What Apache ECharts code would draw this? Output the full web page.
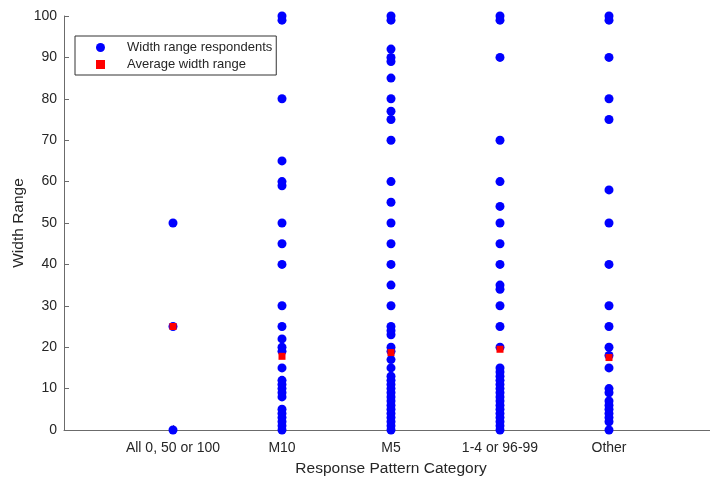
<!DOCTYPE html>
<html>
<head>
<meta charset="utf-8">
<script src="https://cdn.jsdelivr.net/npm/echarts@6/dist/echarts.min.js"></script>
<style>html,body{margin:0;padding:0;background:#fff;overflow:hidden;}#c{width:718px;height:478px;}</style>
</head>
<body>
<div id="c"></div>
<script>
const categories = ['All 0, 50 or 100', 'M10', 'M5', '1-4 or 96-99', 'Other'];
const cat1 = [50, 25, 0];
const cat2 = [100, 99, 80, 65, 60, 59, 50, 45, 40, 30, 25, 22, 20, 19, 15, 12, 11, 10, 9, 8, 5, 4, 3, 2, 1, 0];
const cat3 = [100, 99, 92, 90, 89, 85, 80, 77, 75, 70, 60, 55, 50, 45, 40, 35, 30, 25, 24, 23, 20, 19, 17, 15, 13, 12, 11, 10, 9, 8, 7, 6, 5, 4, 3, 2, 1, 0];
const cat4 = [100, 99, 90, 70, 60, 54, 50, 45, 40, 35, 34, 30, 25, 20, 15, 14, 13, 12, 11, 10, 9, 8, 7, 6, 5, 4, 3, 2, 1, 0];
const cat5 = [100, 99, 90, 80, 75, 58, 50, 40, 30, 25, 20, 18, 15, 10, 9, 7, 6, 5, 4, 3, 2, 0];
const averages = [25, 17.8, 18.7, 19.5, 17.5];
const yTicks = [0, 10, 20, 30, 40, 50, 60, 70, 80, 90, 100];

const groups = [cat1, cat2, cat3, cat4, cat5];
const respData = [];
groups.forEach((g, i) => g.forEach(v => respData.push([i + 1, v])));
const avgData = averages.map((v, i) => [i + 1, v]);

const font = '"Liberation Sans", Arial, Helvetica, sans-serif';
const axisCol = '#6b6b6b';
const textCol = '#262626';

const chart = echarts.init(document.getElementById('c'));
chart.setOption({
  animation: false,
  backgroundColor: '#ffffff',
  textStyle: { fontFamily: font },
  grid: { left: 64, right: 0, top: 16, bottom: 48, containLabel: false, outerBoundsMode: 'none' },
  legend: {
    left: 75, top: 36, orient: 'vertical',
    backgroundColor: '#fff',
    borderColor: '#333', borderWidth: 1, borderRadius: 0,
    padding: [5, 4, 4, 21],
    itemWidth: 9, itemHeight: 9, itemGap: 4,
    textStyle: { fontFamily: font, fontSize: 13, color: textCol, padding: [0, 0, 0, 17] },
    data: [
      { name: 'Width range respondents', icon: 'circle' },
      { name: 'Average width range', icon: 'rect' }
    ]
  },
  xAxis: {
    type: 'value', min: 0, max: 6, interval: 1,
    name: 'Response Pattern Category', nameLocation: 'middle', nameGap: 31,
    nameTextStyle: { fontFamily: font, fontSize: 15.5, color: textCol },
    axisLine: { show: true, onZero: false, lineStyle: { color: axisCol, width: 1 } },
    axisTick: { show: true, inside: true, length: 5, lineStyle: { color: axisCol } },
    axisLabel: {
      fontFamily: font, fontSize: 14, color: textCol, margin: 11,
      formatter: v => categories[v - 1] || ''
    },
    splitLine: { show: false }
  },
  yAxis: {
    type: 'value', min: yTicks[0], max: yTicks[yTicks.length - 1], interval: 10,
    name: 'Width Range', nameLocation: 'middle', nameGap: 37, nameMoveOverlap: false,
    nameTextStyle: { fontFamily: font, fontSize: 15.5, color: textCol },
    axisLine: { show: true, lineStyle: { color: axisCol, width: 1 } },
    axisTick: { show: true, inside: true, length: 5, lineStyle: { color: axisCol } },
    axisLabel: { fontFamily: font, fontSize: 14, color: textCol, margin: 7 },
    splitLine: { show: false }
  },
  series: [
    {
      name: 'Width range respondents', type: 'scatter', symbol: 'circle', symbolSize: 9,
      itemStyle: { color: '#0000ff', opacity: 1 },
      data: respData, z: 2
    },
    {
      name: 'Average width range', type: 'scatter', symbol: 'rect', symbolSize: 7,
      itemStyle: { color: '#ff0000', opacity: 1 },
      data: avgData, z: 3
    }
  ]
});
</script>
</body>
</html>
